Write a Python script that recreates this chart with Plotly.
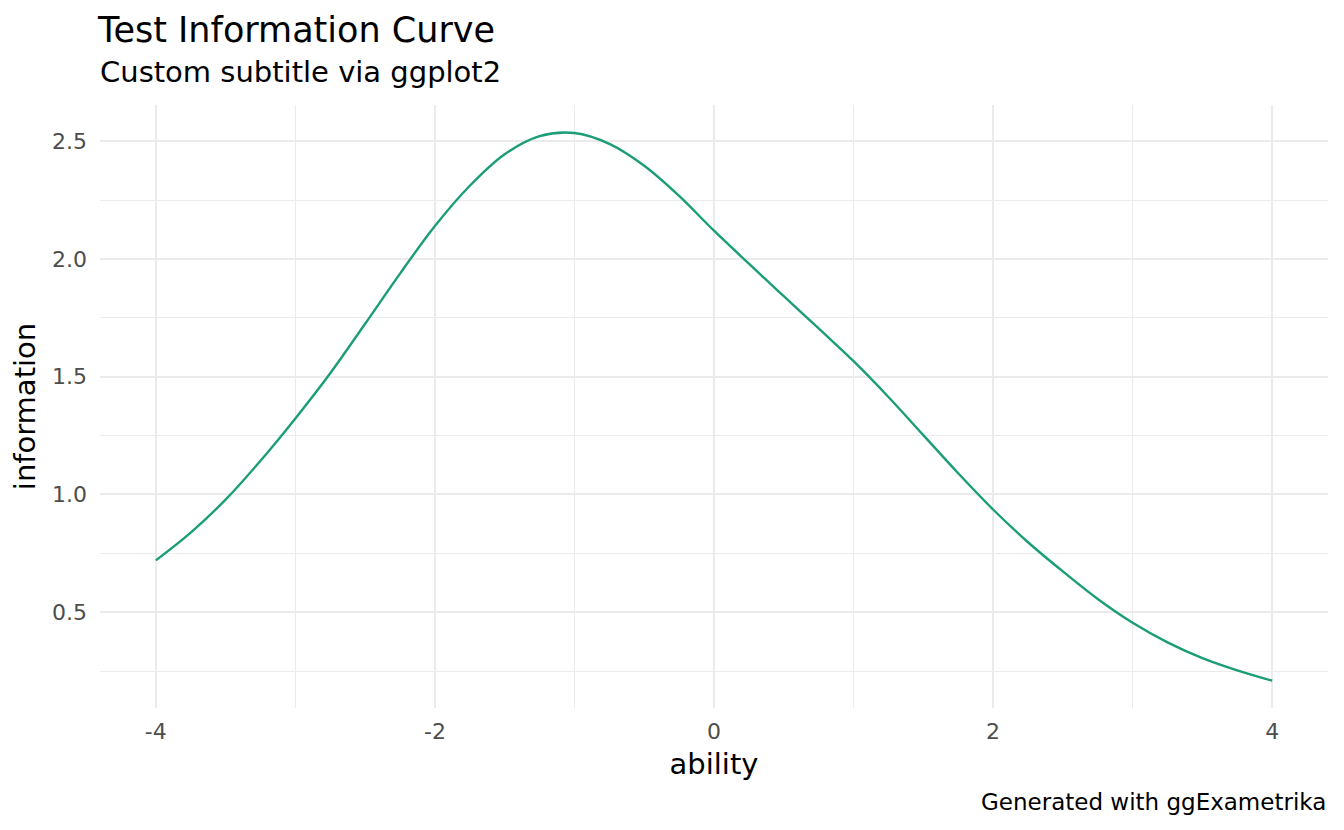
import plotly.graph_objects as go

ability = [-4, -3.75, -3.5, -3.25, -3, -2.75, -2.5, -2.25, -2, -1.75, -1.5, -1.25,
           -1, -0.75, -0.5, -0.25, 0, 0.25, 0.5, 0.75, 1, 1.25, 1.5, 1.75, 2, 2.25,
           2.5, 2.75, 3, 3.25, 3.5, 3.75, 4]
information = [0.72, 0.838, 0.978, 1.143, 1.323, 1.515, 1.725, 1.938, 2.14, 2.311, 2.445,
               2.522, 2.535, 2.489, 2.396, 2.268, 2.12, 1.98, 1.842, 1.705, 1.566,
               1.414, 1.252, 1.09, 0.936, 0.797, 0.673, 0.556, 0.455, 0.372, 0.305,
               0.253, 0.209]

x_ticks = [-4, -2, 0, 2, 4]
x_tick_labels = ["-4", "-2", "0", "2", "4"]
y_ticks = [0.5, 1.0, 1.5, 2.0, 2.5]
y_tick_labels = ["0.5", "1.0", "1.5", "2.0", "2.5"]

title_text = "Test Information Curve"
subtitle_text = "Custom subtitle via ggplot2"
caption_text = "Generated with ggExametrika"

FONT = "DejaVu Sans"
OFF = 8  # default body margin of the html page
W, H = 1344 - OFF, 830 - OFF
ML, MR, MT, MB = 100 - OFF, 16, 105 - OFF, 122
PW, PH = W - ML - MR, H - MT - MB


def px_to_paper(px, py):
    """page pixel -> paper coordinates"""
    fx, fy = px - OFF, py - OFF
    return (fx - ML) / PW, 1 - (fy - MT) / PH


fig = go.Figure()
fig.add_trace(go.Scatter(
    x=ability, y=information, mode="lines",
    line=dict(color="#1B9E77", width=2.4, shape="spline", smoothing=1.0),
    showlegend=False, hoverinfo="skip",
))

grid_major = "#EBEBEB"
sub_x, sub_y = px_to_paper(98, 72)
cap_x, cap_y = px_to_paper(1328, 802)

fig.update_layout(
    width=W, height=H,
    paper_bgcolor="white", plot_bgcolor="white",
    margin=dict(l=ML, r=MR, t=MT, b=MB, autoexpand=False),
    font=dict(family=FONT, color="black"),
    title=dict(text=title_text, x=(98 - OFF) / W, xanchor="left", xref="container",
               y=1 - (30 - OFF) / H, yanchor="middle", yref="container",
               font=dict(size=35, family=FONT, color="black")),
    xaxis=dict(
        range=[-4.4, 4.4], tickvals=x_ticks, ticktext=x_tick_labels,
        showgrid=True, gridcolor=grid_major, gridwidth=2.2,
        minor=dict(dtick=1, tick0=-3, showgrid=True, gridcolor=grid_major, gridwidth=1.1),
        zeroline=False, showline=False, ticks="",
        ticklabelstandoff=8,
        tickfont=dict(size=22, color="#4D4D4D", family=FONT),
        title=dict(text="ability", font=dict(size=29, color="black", family=FONT), standoff=10),
    ),
    yaxis=dict(
        range=[0.093, 2.654], tickvals=y_ticks, ticktext=y_tick_labels,
        showgrid=True, gridcolor=grid_major, gridwidth=2.2,
        minor=dict(dtick=0.5, tick0=0.25, showgrid=True, gridcolor=grid_major, gridwidth=1.1),
        zeroline=False, showline=False, ticks="",
        ticklabelstandoff=12,
        tickfont=dict(size=22, color="#4D4D4D", family=FONT),
        title=dict(text="information", font=dict(size=29, color="black", family=FONT), standoff=10),
    ),
    annotations=[
        dict(text=subtitle_text, x=sub_x, y=sub_y, xref="paper", yref="paper",
             xanchor="left", yanchor="middle", showarrow=False,
             font=dict(size=29, family=FONT, color="black")),
        dict(text=caption_text, x=cap_x, y=cap_y, xref="paper", yref="paper",
             xanchor="right", yanchor="middle", showarrow=False,
             font=dict(size=23, family=FONT, color="black")),
    ],
)

fig.write_html("out.html")
